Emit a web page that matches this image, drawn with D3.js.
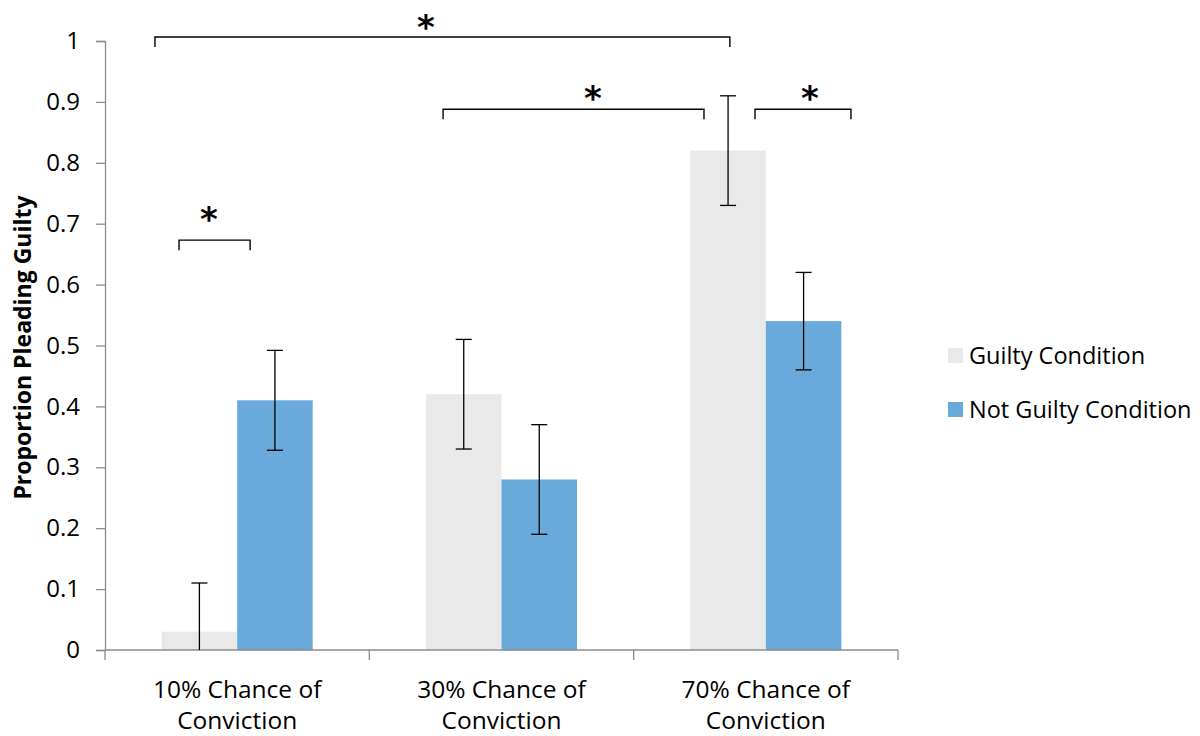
<!DOCTYPE html>
<html>
<head>
<meta charset="utf-8">
<script src="https://cdn.jsdelivr.net/npm/d3@7"></script>
<style>
  html, body { margin: 0; padding: 0; background: #fff; }
  svg { display: block; }
  text { font-family: "Open Sans", Lato, "Noto Sans", sans-serif; fill: #000; }
</style>
</head>
<body>
<svg id="chart" width="1200" height="736"></svg>
<script>
// Proportion pleading guilty by chance of conviction and condition
const categories = ["10% Chance of|Conviction", "30% Chance of|Conviction", "70% Chance of|Conviction"];
const seriesNames = ["Guilty Condition", "Not Guilty Condition"];
const guiltyValues = [0.03, 0.42, 0.82];
const notGuiltyValues = [0.41, 0.28, 0.54];
const guiltyErrors = [0.08, 0.09, 0.09];
const notGuiltyErrors = [0.082, 0.09, 0.08];
const yTicks = [0, 0.1, 0.2, 0.3, 0.4, 0.5, 0.6, 0.7, 0.8, 0.9, 1];
// significance brackets: start / end along the category axis (in category units),
// bracket height and asterisk placement in proportion units
const brackets = [
  { from: 0.189, to: 2.364, level: 1.0066, starAt: 1.214, starLevel: 1.031 },
  { from: 1.279, to: 2.266, level: 0.888, starAt: 1.846, starLevel: 0.915 },
  { from: 2.459, to: 2.822, level: 0.888, starAt: 2.667, starLevel: 0.915 },
  { from: 0.280, to: 0.549, level: 0.673, starAt: 0.393, starLevel: 0.716 }
];
const colors = ["#e9e9e9", "#6aaadb"];

const svg = d3.select("#chart");
const plotLeft = 105, plotRight = 898, plotTop = 41, plotBottom = 650;

const y = d3.scaleLinear().domain([0, 1]).range([plotBottom, plotTop]);
const x0 = d3.scaleBand().domain(d3.range(categories.length)).range([plotLeft, plotRight]).paddingInner(0).paddingOuter(0);
const catUnit = d3.scaleLinear().domain([0, categories.length]).range([plotLeft, plotRight]);
const barW = x0.bandwidth() / 3.5;

const series = [
  { name: seriesNames[0], values: guiltyValues, errors: guiltyErrors, color: colors[0] },
  { name: seriesNames[1], values: notGuiltyValues, errors: notGuiltyErrors, color: colors[1] }
];

// bars
series.forEach((s, si) => {
  const g = svg.append("g");
  g.selectAll("rect").data(s.values).enter().append("rect")
    .attr("x", (d, i) => x0(i) + x0.bandwidth() / 2 - barW + si * barW)
    .attr("y", d => y(d))
    .attr("width", barW)
    .attr("height", d => y(0) - y(d))
    .attr("fill", s.color);
});

// y axis
const yAxis = d3.axisLeft(y).tickValues(yTicks).tickSize(9).tickPadding(16)
  .tickFormat(d => d === 0 ? "0" : d === 1 ? "1" : d3.format(".1f")(d));
const yg = svg.append("g").attr("transform", `translate(${plotLeft},0)`).call(yAxis);
yg.select(".domain").attr("stroke", "#8c8c8c").attr("stroke-width", 1.3);
yg.selectAll(".tick line").attr("stroke", "#8c8c8c").attr("stroke-width", 1.3);
yg.selectAll(".tick text").style("font-size", "24px").attr("fill", "#000")
  .style("font-family", "'Open Sans', sans-serif");

// x axis with ticks at category boundaries
const xg = svg.append("g").attr("transform", `translate(0,${plotBottom})`);
xg.append("line").attr("x1", plotLeft).attr("x2", plotRight).attr("y1", 0).attr("y2", 0)
  .attr("stroke", "#8c8c8c").attr("stroke-width", 1.3);
xg.selectAll("line.tk").data(d3.range(categories.length + 1)).enter().append("line")
  .attr("class", "tk")
  .attr("x1", d => catUnit(d)).attr("x2", d => catUnit(d))
  .attr("y1", 0).attr("y2", 10)
  .attr("stroke", "#8c8c8c").attr("stroke-width", 1.3);
xg.selectAll("text").data(categories).enter().append("text")
  .attr("text-anchor", "middle")
  .style("font-size", "24.5px")
  .each(function (d, i) {
    const t = d3.select(this);
    d.split("|").forEach((line, li) => {
      t.append("tspan").attr("x", x0(i) + x0.bandwidth() / 2).attr("y", 48 + li * 31).text(line);
    });
  });

// error bars
series.forEach((s, si) => {
  const g = svg.append("g").attr("stroke", "#000").attr("stroke-width", 1.3);
  s.values.forEach((v, i) => {
    const cx = x0(i) + x0.bandwidth() / 2 - barW / 2 + si * barW;
    const hi = v + s.errors[i];
    const lo = Math.max(0, v - s.errors[i]);
    g.append("line").attr("x1", cx).attr("x2", cx).attr("y1", y(hi)).attr("y2", y(lo));
    g.append("line").attr("x1", cx - 8).attr("x2", cx + 8).attr("y1", y(hi)).attr("y2", y(hi));
    if (lo > 0) g.append("line").attr("x1", cx - 8).attr("x2", cx + 8).attr("y1", y(lo)).attr("y2", y(lo));
  });
});

// significance brackets
const bg = svg.append("g");
brackets.forEach(b => {
  const xa = catUnit(b.from), xb = catUnit(b.to), yy = y(b.level);
  bg.append("path")
    .attr("d", `M${xa},${yy + 10}V${yy}H${xb}V${yy + 10}`)
    .attr("fill", "none").attr("stroke", "#000").attr("stroke-width", 1.4);
  bg.append("text").attr("x", catUnit(b.starAt)).attr("y", y(b.starLevel) + 17)
    .attr("text-anchor", "middle")
    .style("font-size", "34px").style("font-weight", "bold")
    .style("font-family", "'DejaVu Sans', sans-serif")
    .text("*");
});

// y axis title
svg.append("text")
  .attr("transform", `translate(31,${(plotTop + plotBottom) / 2 + 2}) rotate(-90)`)
  .attr("text-anchor", "middle")
  .style("font-size", "23px").style("font-weight", "bold")
  .text("Proportion Pleading Guilty");

// legend
const lg = svg.append("g").attr("transform", "translate(948,348)");
series.forEach((s, si) => {
  const row = lg.append("g").attr("transform", `translate(0,${si * 54})`);
  row.append("rect").attr("width", 15).attr("height", 15).attr("fill", s.color);
  row.append("text").attr("x", 21).attr("y", 16).style("font-size", "23.5px").text(s.name);
});
</script>
</body>
</html>
